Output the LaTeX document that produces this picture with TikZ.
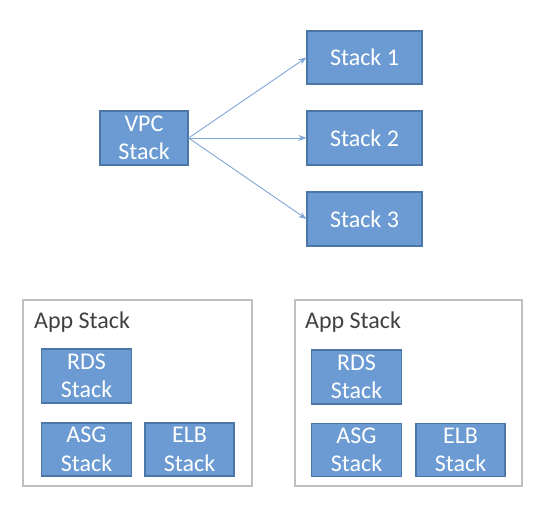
\documentclass[tikz,border=0pt]{standalone}
\usepackage{fontspec}
\setmainfont{Carlito}
\usetikzlibrary{arrows.meta}
\definecolor{boxfill}{HTML}{6B9BD2}
\definecolor{boxline}{HTML}{4A77A6}
\definecolor{arrowcol}{HTML}{7FA7D6}
\definecolor{framecol}{HTML}{BFBFBF}
\definecolor{labelcol}{HTML}{404040}
\tikzset{
  stackbox/.style={draw=boxline, line width=1.2bp, fill=boxfill, text=white, inner sep=0pt, align=center,
    font=\fontsize{24bp}{28.5bp}\selectfont},
  framebox/.style={draw=framecol, line width=1.5bp},
  framelabel/.style={anchor=base west, inner sep=0pt, text=labelcol, font=\fontsize{24bp}{28.5bp}\selectfont},
  link/.style={draw=arrowcol, line width=0.9bp, -{Stealth[length=8bp,width=6bp]}}
}
\begin{document}
\begin{tikzpicture}[x=1bp,y=-1bp]
\useasboundingbox (0,0) rectangle (549,514);
% top part
\node[stackbox, minimum width=88bp, minimum height=54bp] (vpc) at (144,138) {VPC\\Stack};
\node[stackbox, minimum width=115bp, minimum height=53bp] (s1) at (364.5,57.5) {Stack 1};
\node[stackbox, minimum width=115bp, minimum height=54bp] (s2) at (364.5,138) {Stack 2};
\node[stackbox, minimum width=115bp, minimum height=54bp] (s3) at (364.5,219) {Stack 3};
\draw[link] (vpc.east) -- (s1.west);
\draw[link] (vpc.east) -- (s2.west);
\draw[link] (vpc.east) -- (s3.west);
% left app stack
\draw[framebox] (23,300) rectangle (252,486);
\node[framelabel] (lapp) at (34,328) {App Stack};
\node[stackbox, minimum width=90bp, minimum height=54bp] (lrds) at (86.5,376) {RDS\\Stack};
\node[stackbox, minimum width=90bp, minimum height=53bp] (lasg) at (86.5,449.5) {ASG\\Stack};
\node[stackbox, minimum width=89bp, minimum height=53bp] (lelb) at (189.5,449.5) {ELB\\Stack};
% right app stack
\draw[framebox] (295,300) rectangle (522,486);
\node[framelabel] (rapp) at (305,328) {App Stack};
\node[stackbox, minimum width=90bp, minimum height=54bp] (rrds) at (356.5,377) {RDS\\Stack};
\node[stackbox, minimum width=90bp, minimum height=53bp] (rasg) at (356.5,450) {ASG\\Stack};
\node[stackbox, minimum width=89bp, minimum height=53bp] (relb) at (460.5,450) {ELB\\Stack};
\end{tikzpicture}
\end{document}
